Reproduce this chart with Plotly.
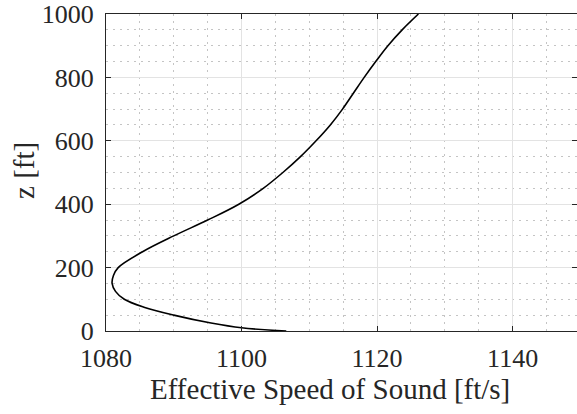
import plotly.graph_objects as go

# Data
z_ft = [0, 10, 25, 50, 75, 100, 125, 150, 175, 200, 250, 300, 350, 400,
        450, 500, 550, 600, 650, 700, 750, 800, 850, 900, 950, 1000]
c_eff = [1106.6, 1100.0, 1095.5, 1090.0, 1085.6, 1082.7, 1081.4, 1080.9,
         1081.1, 1081.8, 1085.4, 1090.0, 1095.0, 1099.6, 1103.2, 1106.1,
         1108.7, 1111.0, 1113.1, 1114.9, 1116.5, 1118.1, 1119.8, 1121.6,
         1123.7, 1126.1]
x_ticks = [1080, 1100, 1120, 1140]
y_ticks = [0, 200, 400, 600, 800, 1000]
x_label = "Effective Speed of Sound [ft/s]"
y_label = "z [ft]"

FONT = "Liberation Serif"
AX = "#262626"

fig = go.Figure(go.Scatter(x=c_eff, y=z_ft, mode="lines",
                           line=dict(color="black", width=1.6, shape="spline", smoothing=1.0),
                           hoverinfo="skip"))

common = dict(showline=True, linecolor=AX, linewidth=1.2, mirror="ticks",
              ticks="inside", ticklen=5, tickcolor=AX, tickwidth=1.2,
              showgrid=True, gridcolor="#e3e3e3", gridwidth=1,
              zeroline=False,
              tickfont=dict(family=FONT, size=26, color=AX))

fig.update_xaxes(range=[1080, 1149.5], tickvals=x_ticks,
                 ticktext=[str(v) for v in x_ticks],
                 minor=dict(dtick=5, tick0=1080, showgrid=True, gridcolor="#c4c4c4",
                            griddash="2px,5px", gridwidth=1, ticks=""),
                 ticklabelstandoff=4,
                 **common)
fig.update_yaxes(range=[0, 1000], tickvals=y_ticks,
                 ticktext=[str(v) for v in y_ticks],
                 minor=dict(dtick=50, tick0=0, showgrid=True, gridcolor="#c4c4c4",
                            griddash="2px,5px", gridwidth=1, ticks=""),
                 ticklabelstandoff=6,
                 **common)

fig.add_annotation(text=x_label, xref="paper", yref="paper",
                   x=0.4756, y=-0.182, xanchor="center", yanchor="middle",
                   showarrow=False, font=dict(family=FONT, size=29, color=AX))
fig.add_annotation(text=y_label, xref="paper", yref="paper", textangle=-90,
                   x=-0.1741, y=0.508, xanchor="center", yanchor="middle",
                   showarrow=False, font=dict(family=FONT, size=29, color=AX))

fig.update_layout(width=577, height=414,
                  margin=dict(l=106, r=0, t=14, b=83),
                  paper_bgcolor="white", plot_bgcolor="white",
                  showlegend=False)

fig.write_html("out.html")
